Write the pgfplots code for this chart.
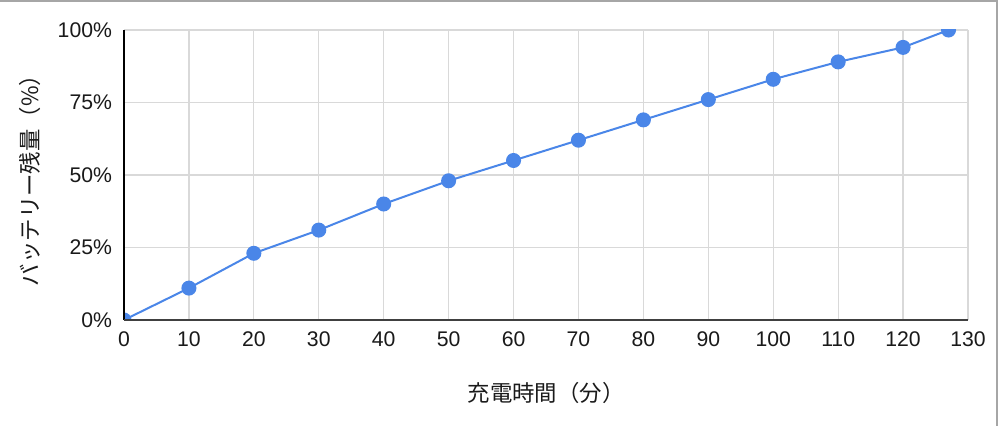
\documentclass[border=0pt]{standalone}
\usepackage{pgfplots}
\pgfplotsset{compat=1.18}
\usepackage{fontspec}
\setmainfont{Liberation Sans}
\newfontfamily\cjk{Noto Sans CJK JP}
\definecolor{linec}{HTML}{4A86E8}
\definecolor{gridc}{HTML}{D9D9D9}
\definecolor{framec}{HTML}{A6A6A6}
\definecolor{textc}{HTML}{1A1A1A}
\begin{document}
\begin{tikzpicture}[x=1pt,y=1pt]
\path[use as bounding box, fill=white] (0,0) rectangle (500,213);
\draw[framec, line width=1pt] (0,212.6) -- (498.6,212.6) -- (498.6,0);
\begin{axis}[
  at={(62pt,53pt)}, anchor=south west, scale only axis,
  width=422pt, height=145pt,
  xmin=0, xmax=130, ymin=0, ymax=100,
  xtick={0,10,...,130}, ytick={0,25,50,75,100},
  yticklabel={\pgfmathprintnumber{\tick}\%},
  /pgf/number format/assume math mode=true,
  grid=major, major grid style={gridc, line width=0.6pt},
  axis line style={draw=none},
  major tick length=0pt,
  tick label style={font=\fontsize{10.6}{12}\selectfont, text=textc},
  xticklabel style={yshift=-2.5pt},
  yticklabel style={xshift=-2.5pt},
  xlabel={\cjk 充電時間（分）},
  ylabel={\cjk バッテリー残量（\%）},
  label style={font=\fontsize{11.2}{13}\selectfont, text=textc},
  xlabel style={at={(axis description cs:0.5,-0.2517)}, anchor=center},
  ylabel style={at={(axis description cs:-0.1114,0.5)}, anchor=center},
  clip marker paths=true,
]
\addplot[linec, line width=1pt, mark=*, mark size=3.25pt, mark options={fill=linec, draw=linec}] coordinates {
(0,0) (10,11) (20,23) (30,31) (40,40) (50,48) (60,55) (70,62) (80,69) (90,76) (100,83) (110,89) (120,94) (127,100)
};
\end{axis}
\draw[black, line width=0.8pt] (62,53) -- (62,198);
\draw[black!75, line width=0.8pt] (62,53) -- (484,53);
\end{tikzpicture}
\end{document}
